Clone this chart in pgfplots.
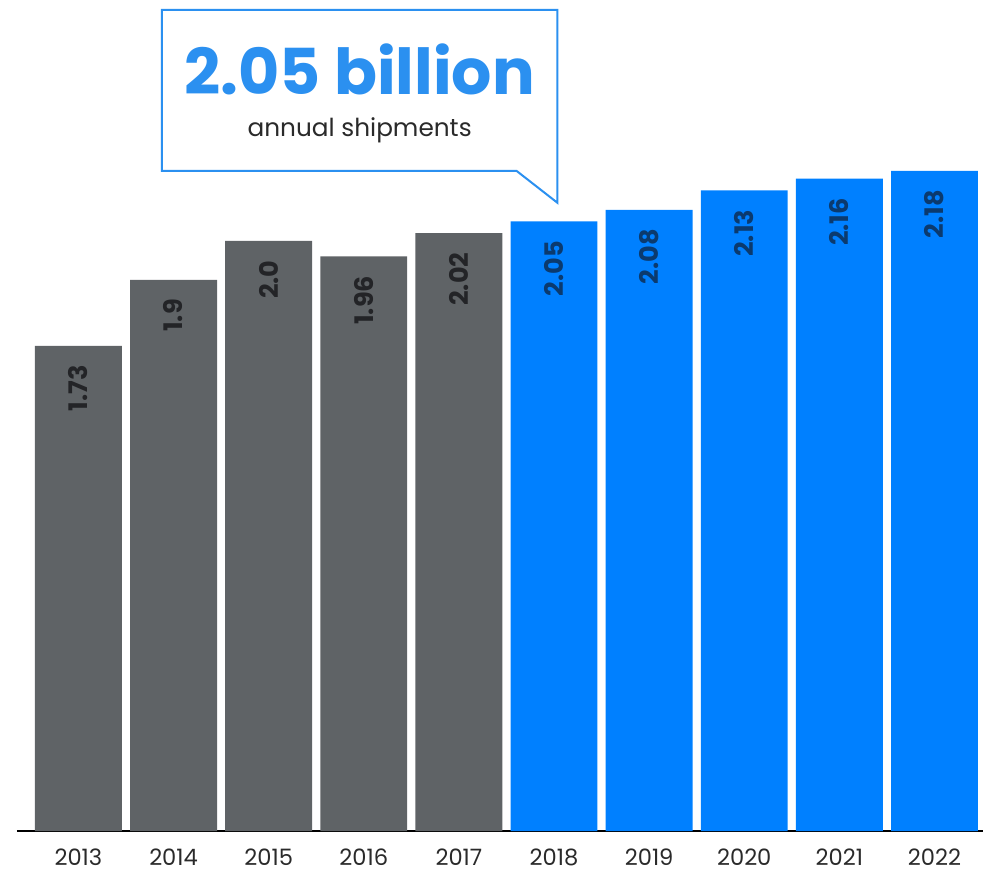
\documentclass[border=0pt]{standalone}
\usepackage{pgfplots}
\pgfplotsset{compat=1.18}
\usepackage{fontspec}
\setmainfont{Poppins}
\definecolor{bargrey}{HTML}{5F6366}
\definecolor{barblue}{HTML}{0080FF}
\definecolor{lblgrey}{HTML}{232427}
\definecolor{lblblue}{HTML}{0B3A6E}
\definecolor{callout}{HTML}{2B90F0}
\definecolor{txtdark}{HTML}{2A2A2A}
\begin{document}
\begin{tikzpicture}[x=1pt,y=1pt]
\path (0,0) rectangle (492,435.5);
\begin{axis}[at={(8.5pt,19.5pt)}, anchor=south west, scale only axis,
  width=483.5pt, height=416pt,
  xmin=-0.646, xmax=9.51, ymin=0.481, ymax=2.62,
  hide y axis, axis x line*=bottom,
  x axis line style={black, line width=1pt, -},
  xtick={0,...,9},
  xticklabels={2013,2014,2015,2016,2017,2018,2019,2020,2021,2022},
  major tick length=0pt,
  /pgf/number format/assume math mode=true,
  xticklabel style={font=\fontsize{11.3}{13}\selectfont, text=txtdark, yshift=-5.5pt},
  ybar, bar width=43.5pt, bar shift=0pt,
  nodes near coords, point meta=explicit symbolic,
  every node near coord/.append style={yshift=-6.2pt, rotate=90, anchor=east,
    font=\bfseries\fontsize{12.8}{14}\selectfont},
]
\addplot[draw=none, fill=bargrey, nodes near coords style={text=lblgrey}]
  table[meta=label] {
x y label
0 1.73 1.73
1 1.90 1.9
2 2.00 2.0
3 1.96 1.96
4 2.02 2.02
};
\addplot[draw=none, fill=barblue, nodes near coords style={text=lblblue}]
  table[meta=label] {
x y label
5 2.05 2.05
6 2.08 2.08
7 2.13 2.13
8 2.16 2.16
9 2.18 2.18
};
\end{axis}
\draw[callout, line width=1pt] (81,430.5) -- (279,430.5) -- (279,334) -- (258.5,350) -- (81,350) -- cycle;
\node[text=callout, font=\bfseries\fontsize{31.7}{36}\selectfont, anchor=base, inner sep=0pt] at (180,388) {2.05 billion};
\node[text=txtdark, font=\fontsize{12.4}{14}\selectfont, anchor=base, inner sep=0pt] at (180,367) {annual shipments};
\end{tikzpicture}
\end{document}
